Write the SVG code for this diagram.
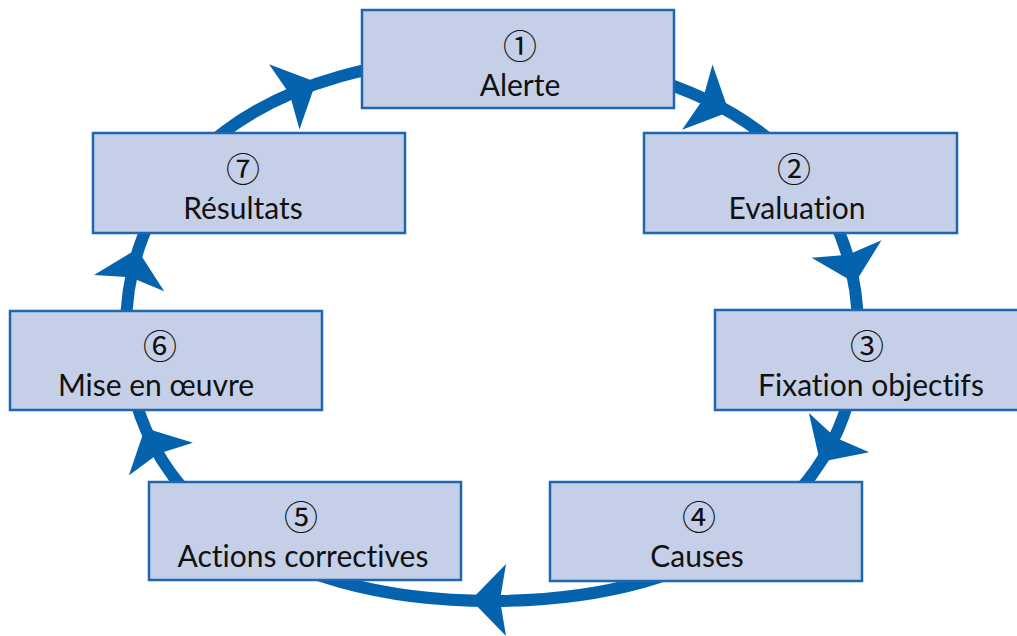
<svg xmlns="http://www.w3.org/2000/svg" width="1017" height="636" viewBox="0 0 1017 636">
<style>
.box{fill:#c5d0e8;stroke:#1f67b0;stroke-width:2.5}
.lbl{font-family:Lato,"Open Sans",sans-serif;font-size:30px;fill:#111;text-anchor:middle;font-variant-ligatures:none;font-feature-settings:"liga" 0,"clig" 0,"dlig" 0}
.num{font-family:"Noto Sans CJK JP",sans-serif;font-size:34px;fill:#111;text-anchor:middle;dominant-baseline:central}
.ring{fill:none;stroke:#0563ae;stroke-width:12}
.ah{fill:#0563ae}
</style>
<defs>
<path id="head" d="M0,0 L-35,-36 L-29,0 L-35,36 Z"/>
</defs>
<g id="connectors">
<path class="ring" d="M858,330 C858,495.3 715.3,601 492,601 C268.7,601 126,495.3 126,330 C126,163.5 268.7,57 492,57 C715.3,57 858,163.5 858,330 Z"/>
<use href="#head" class="ah" transform="translate(316,82) rotate(-25)"/>
<use href="#head" class="ah" transform="translate(729,112) rotate(25)"/>
<use href="#head" class="ah" transform="translate(855,283) rotate(76)"/>
<use href="#head" class="ah" transform="translate(820,462) rotate(123)"/>
<use href="#head" class="ah" transform="translate(471,600) rotate(180)"/>
<use href="#head" class="ah" transform="translate(145,428) rotate(-117)"/>
<use href="#head" class="ah" transform="translate(137,249) rotate(-77)"/>
</g>
<g id="n1"><rect class="box" x="362" y="10" width="312" height="98"/><text class="num" x="520" y="44">①</text><text class="lbl" x="520" y="96">Alerte</text></g>
<g id="n2"><rect class="box" x="644" y="133" width="313" height="100"/><text class="num" x="794" y="167">②</text><text class="lbl" x="797" y="219">Evaluation</text></g>
<g id="n3"><rect class="box" x="715" y="310" width="305" height="100"/><text class="num" x="867" y="344">③</text><text class="lbl" x="871" y="396">Fixation objectifs</text></g>
<g id="n4"><rect class="box" x="550" y="482" width="312" height="99"/><text class="num" x="699" y="515">④</text><text class="lbl" x="697" y="567">Causes</text></g>
<g id="n5"><rect class="box" x="149" y="482" width="312" height="98"/><text class="num" x="301" y="515">⑤</text><text class="lbl" x="303" y="567">Actions correctives</text></g>
<g id="n6"><rect class="box" x="10" y="311" width="312" height="99"/><text class="num" x="160" y="344">⑥</text><text class="lbl" x="156" y="396">Mise en œuvre</text></g>
<g id="n7"><rect class="box" x="93" y="133" width="312" height="100"/><text class="num" x="243" y="167">⑦</text><text class="lbl" x="243" y="219">Résultats</text></g>
</svg>
